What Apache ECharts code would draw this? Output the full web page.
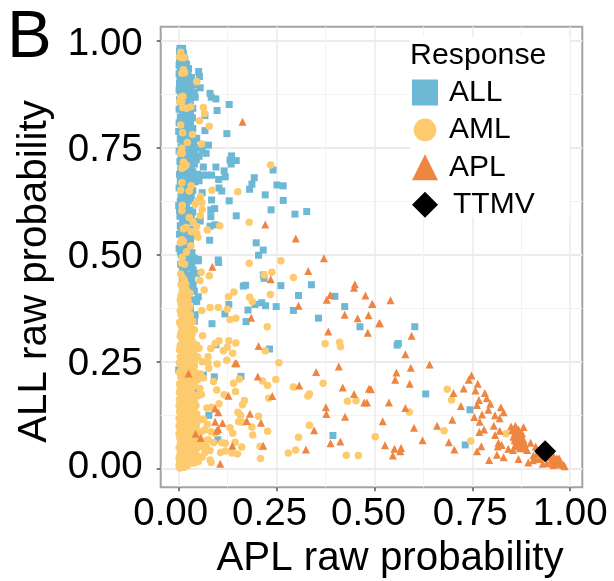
<!DOCTYPE html>
<html><head><meta charset="utf-8">
<style>html,body{margin:0;padding:0;background:#fff}#c{width:614px;height:581px}</style>
<script src="https://cdn.jsdelivr.net/npm/echarts@6/dist/echarts.min.js"></script></head>
<body><div id="c"></div>
<script>
const xTicks=[0,0.25,0.5,0.75,1];
const yTicks=[0,0.25,0.5,0.75,1];
const minorTicks=[0.125,0.375,0.625,0.875];
const seriesNames=['ALL','AML','APL','TTMV'];
const ALL=[[.003,.982],[.010,.982],[.002,.975],[.012,.970],[.005,.966],[.014,.960],[.002,.958],[.016,.955],[.006,.950],[.020,.945],[.001,.943],[.012,.940],[.025,.935],[.004,.933],[.018,.930],[.051,.928],[.024,.925],[.001,.923],[.010,.920],[.053,.916],[.033,.914],[.018,.912],[.003,.910],[.029,.904],[.012,.902],[.002,.899],[.042,.897],[.020,.895],[.008,.891],[.055,.890],[.030,.888],[.001,.885],[.016,.882],[.080,.877],[.005,.876],[.022,.872],[.042,.868],[.083,.868],[.030,.866],[.095,.864],[.002,.862],[.012,.860],[.020,.855],[.129,.851],[.030,.850],[.006,.846],[.001,.840],[.098,.837],[.014,.835],[.030,.832],[.022,.828],[.067,.825],[.004,.822],[.035,.820],[.012,.816],[.026,.812],[.001,.808],[.018,.805],[.030,.800],[.008,.798],[.022,.795],[.067,.790],[.000,.788],[.123,.783],[.028,.782],[.012,.778],[.046,.772],[.004,.770],[.030,.766],[.018,.762],[.038,.760],[.076,.756],[.006,.752],[.050,.750],[.026,.746],[.060,.744],[.001,.742],[.040,.738],[.070,.737],[.135,.731],[.030,.730],[.016,.726],[.045,.722],[.131,.721],[.147,.720],[.003,.718],[.028,.716],[.040,.712],[.134,.712],[.020,.708],[.063,.705],[.095,.705],[.032,.702],[.005,.700],[.241,.698],[.116,.696],[.015,.694],[.028,.690],[.002,.688],[.063,.686],[.084,.686],[.072,.686],[.038,.684],[.119,.682],[.193,.680],[.010,.680],[.025,.676],[.102,.676],[.034,.675],[.052,.673],[.004,.672],[.042,.670],[.015,.668],[.187,.665],[.251,.663],[.267,.661],[.028,.664],[.103,.656],[.001,.656],[.181,.653],[.030,.652],[.008,.650],[.110,.649],[.060,.645],[.036,.650],[.221,.640],[.004,.625],[.018,.632],[.084,.628],[.129,.626],[.267,.627],[.020,.622],[.030,.626],[.000,.615],[.092,.608],[.236,.605],[.082,.605],[.327,.601],[.012,.608],[.028,.604],[.297,.595],[.147,.591],[.082,.589],[.003,.590],[.018,.594],[.032,.590],[.055,.579],[.010,.580],[.025,.578],[.093,.570],[.080,.567],[.004,.568],[.030,.560],[.016,.556],[.040,.546],[.079,.534],[.002,.548],[.022,.540],[.198,.528],[.008,.528],[.030,.526],[.001,.515],[.216,.511],[.014,.512],[.024,.510],[.204,.499],[.006,.500],[.101,.488],[.050,.489],[.035,.486],[.050,.486],[.102,.482],[.033,.480],[.037,.465],[.046,.457],[.216,.453],[.218,.445],[.033,.437],[.010,.470],[.020,.452],[.024,.436],[.037,.430],[.339,.430],[.261,.428],[.171,.429],[.165,.427],[.306,.405],[.399,.403],[.050,.402],[.046,.391],[.212,.388],[.128,.384],[.195,.384],[.222,.381],[.249,.379],[.424,.379],[.177,.371],[.293,.370],[.118,.362],[.357,.352],[.172,.344],[.085,.339],[.463,.332],[.603,.332],[.561,.293],[.558,.289],[.095,.290],[.232,.280],[.000,.231],[.063,.219],[.159,.216],[.091,.215],[.042,.188],[.631,.175],[.744,.138],[.077,.125],[.394,.078],[.100,.068],[.732,.056],[.015,.400],[.030,.375],[.022,.350],[.018,.320],[.040,.345]];
const ALL_COLUMN=[[.008,.976],[.007,.958],[.011,.950],[.017,.938],[.008,.928],[.022,.918],[.006,.905],[.024,.882],[.010,.875],[.034,.878],[.040,.880],[.016,.866],[.006,.858],[.024,.845],[.010,.838],[.036,.842],[.018,.820],[.006,.812],[.030,.816],[.014,.790],[.024,.788],[.036,.795],[.005,.782],[.020,.775],[.036,.775],[.010,.765],[.024,.758],[.012,.748],[.034,.746],[.020,.736],[.006,.732],[.010,.715],[.022,.722],[.036,.728],[.052,.730],[.058,.758],[.008,.706],[.022,.696],[.036,.694],[.048,.688],[.016,.684],[.006,.664],[.020,.658],[.012,.644],[.024,.640],[.006,.636],[.032,.638],[.012,.620],[.002,.604],[.020,.610],[.008,.596],[.024,.586],[.036,.600],[.042,.578],[.016,.572],[.006,.556],[.024,.552],[.034,.548],[.012,.542],[.030,.538],[.018,.526],[.004,.508],[.034,.505],[.012,.495],[.024,.490],[.040,.492],[.005,.478],[.028,.470],[.016,.462],[.034,.452],[.010,.440],[.030,.420],[.040,.415],[.020,.405],[.042,.360],[.034,.395]];
const AML=[[.005,.973],[.009,.960],[.002,.962],[.014,.961],[.012,.932],[.008,.924],[.015,.925],[.046,.904],[.005,.868],[.011,.870],[.008,.858],[.002,.858],[.010,.844],[.031,.846],[.020,.842],[.063,.844],[.066,.830],[.053,.813],[.078,.800],[.005,.803],[.010,.785],[.035,.781],[.022,.762],[.058,.759],[.008,.749],[.009,.737],[.004,.738],[.012,.717],[.019,.710],[.008,.702],[.014,.705],[.235,.710],[.008,.668],[.032,.661],[.005,.651],[.027,.649],[.085,.651],[.151,.647],[.056,.636],[.050,.628],[.042,.618],[.059,.622],[.060,.606],[.009,.616],[.008,.603],[.055,.591],[.027,.587],[.037,.577],[.046,.566],[.180,.576],[.105,.568],[.073,.558],[.012,.560],[.019,.564],[.032,.554],[.046,.550],[.049,.541],[.008,.535],[.012,.531],[.004,.528],[.031,.521],[.020,.507],[.009,.494],[.261,.486],[.180,.480],[.008,.480],[.015,.478],[.057,.459],[.078,.451],[.218,.453],[.238,.459],[.293,.447],[.054,.440],[.012,.445],[.005,.455],[.018,.432],[.141,.413],[.127,.402],[.234,.407],[.181,.401],[.188,.391],[.065,.418],[.029,.410],[.010,.420],[.020,.418],[.006,.405],[.014,.398],[.024,.392],[.006,.385],[.016,.380],[.028,.378],[.059,.370],[.080,.377],[.101,.377],[.124,.373],[.004,.370],[.014,.364],[.030,.360],[.010,.352],[.131,.349],[.146,.352],[.020,.345],[.036,.345],[.226,.332],[.006,.335],[.028,.330],[.016,.322],[.040,.325],[.004,.310],[.022,.305],[.061,.311],[.034,.300],[.103,.299],[.128,.299],[.093,.293],[.146,.294],[.374,.292],[.411,.296],[.413,.285],[.082,.281],[.124,.284],[.114,.276],[.221,.276],[.138,.270],[.045,.290],[.052,.282],[.008,.290],[.016,.284],[.028,.280],[.002,.278],[.038,.272],[.012,.270],[.022,.264],[.048,.262],[.004,.262],[.075,.262],[.032,.256],[.123,.254],[.014,.252],[.060,.250],[.256,.248],[.075,.248],[.098,.245],[.006,.244],[.022,.240],[.040,.240],[.077,.235],[.012,.232],[.030,.228],[.002,.225],[.055,.222],[.020,.220],[.040,.218],[.063,.212],[.248,.209],[.155,.210],[.214,.205],[.089,.204],[.140,.200],[.369,.200],[.006,.212],[.014,.205],[.030,.206],[.002,.198],[.022,.196],[.040,.198],[.227,.195],[.293,.191],[.054,.188],[.010,.188],[.030,.186],[.097,.184],[.145,.181],[.020,.180],[.002,.178],[.334,.175],[.058,.174],[.116,.173],[.040,.172],[.012,.170],[.330,.170],[.230,.165],[.028,.165],[.002,.162],[.020,.160],[.168,.160],[.453,.159],[.431,.158],[.040,.156],[.010,.155],[.103,.152],[.163,.150],[.028,.150],[.001,.148],[.018,.146],[.084,.144],[.072,.142],[.040,.142],[.008,.140],[.026,.138],[.002,.134],[.151,.132],[.016,.132],[.034,.130],[.046,.128],[.008,.125],[.158,.125],[.204,.123],[.024,.124],[.001,.118],[.040,.118],[.063,.116],[.014,.116],[.054,.114],[.030,.112],[.153,.110],[.164,.109],[.006,.108],[.020,.106],[.073,.104],[.334,.102],[.045,.102],[.001,.100],[.033,.100],[.012,.098],[.187,.098],[.131,.096],[.024,.094],[.066,.091],[.004,.092],[.040,.090],[.227,.088],[.082,.087],[.016,.086],[.030,.084],[.093,.083],[.138,.083],[.001,.082],[.052,.080],[.189,.079],[.010,.078],[.022,.074],[.042,.074],[.306,.074],[.502,.075],[.003,.072],[.032,.068],[.076,.068],[.014,.068],[.060,.066],[.144,.062],[.110,.061],[.089,.061],[.119,.060],[.022,.060],[.746,.065],[.005,.060],[.040,.058],[.050,.056],[.014,.054],[.030,.052],[.055,.052],[.208,.052],[.161,.051],[.001,.050],[.070,.052],[.020,.046],[.042,.044],[.008,.044],[.299,.044],[.080,.043],[.119,.042],[.030,.040],[.067,.038],[.107,.038],[.136,.037],[.280,.037],[.150,.035],[.004,.036],[.016,.034],[.046,.032],[.428,.032],[.459,.031],[.024,.028],[.001,.026],[.060,.028],[.010,.024],[.209,.024],[.080,.021],[.036,.020],[.003,.016],[.050,.017],[.016,.014],[.083,.015],[.026,.012],[.001,.008],[.008,.006],[.003,.002],[.012,.010],[.589,.133],[.686,.186],[.697,.161],[.678,.089],[.836,.082]];
const AML_COLUMN=[[.014,.440],[.006,.430],[.012,.412],[.022,.402],[.004,.395],[.012,.375],[.022,.366],[.006,.360],[.024,.350],[.014,.340],[.002,.342],[.030,.338],[.010,.326],[.024,.318],[.006,.318],[.034,.315],[.014,.306],[.028,.296],[.010,.298],[.020,.290],[.040,.284],[.004,.288],[.034,.268],[.018,.272],[.028,.262],[.008,.256],[.020,.250],[.040,.252],[.002,.248],[.030,.244],[.014,.238],[.006,.230],[.022,.228],[.040,.228],[.014,.222],[.032,.214],[.006,.220],[.022,.210],[.012,.212],[.048,.208],[.036,.192],[.018,.190],[.004,.188],[.026,.178],[.010,.178],[.034,.176],[.048,.170],[.016,.168],[.006,.164],[.034,.158],[.024,.154],[.014,.148],[.004,.150],[.044,.148],[.032,.142],[.020,.138],[.012,.130],[.026,.128],[.040,.128],[.006,.120],[.018,.122],[.032,.118],[.048,.118],[.024,.110],[.012,.106],[.038,.108],[.004,.108],[.018,.098],[.028,.092],[.008,.090],[.036,.090],[.048,.088],[.022,.082],[.010,.084],[.042,.082],[.056,.086],[.028,.074],[.016,.076],[.006,.074],[.036,.074],[.050,.070],[.020,.066],[.008,.066],[.028,.062],[.038,.064],[.060,.056],[.012,.058],[.022,.052],[.036,.050],[.046,.048],[.006,.052],[.014,.044],[.028,.046],[.036,.038],[.004,.028],[.020,.038],[.012,.034],[.028,.032],[.008,.030],[.040,.028],[.018,.024],[.030,.022],[.008,.016],[.020,.016],[.012,.020],[.004,.008],[.040,.014],[.022,.008],[.014,.004]];
const APL=[[.163,.811],[.221,.571],[.299,.538],[.371,.492],[.086,.472],[.331,.462],[.235,.443],[.450,.431],[.448,.423],[.387,.406],[.378,.395],[.477,.405],[.494,.385],[.306,.381],[.424,.360],[.457,.352],[.485,.359],[.185,.353],[.512,.340],[.382,.321],[.483,.318],[.204,.287],[.144,.247],[.148,.247],[.409,.239],[.025,.223],[.351,.226],[.202,.216],[.308,.195],[.419,.190],[.486,.187],[.127,.171],[.239,.170],[.448,.175],[.474,.155],[.481,.155],[.376,.144],[.377,.128],[.425,.122],[.093,.141],[.101,.132],[.182,.129],[.174,.112],[.210,.108],[.093,.110],[.112,.107],[.101,.093],[.097,.089],[.346,.090],[.043,.082],[.056,.072],[.137,.054],[.216,.054],[.413,.064],[.388,.060],[.325,.045],[.106,.012],[.541,.394],[.495,.385],[.514,.340],[.595,.311],[.579,.268],[.641,.244],[.593,.236],[.556,.225],[.553,.208],[.590,.199],[.491,.186],[.537,.155],[.579,.142],[.521,.111],[.601,.096],[.660,.101],[.699,.115],[.702,.177],[.721,.147],[.728,.188],[.748,.218],[.741,.208],[.764,.199],[.758,.183],[.782,.177],[.787,.165],[.767,.161],[.762,.149],[.796,.152],[.791,.138],[.823,.144],[.830,.132],[.808,.125],[.820,.118],[.775,.127],[.755,.121],[.769,.110],[.805,.101],[.780,.092],[.768,.086],[.820,.089],[.808,.079],[.849,.099],[.860,.101],[.881,.098],[.864,.087],[.877,.083],[.855,.075],[.868,.072],[.881,.068],[.817,.061],[.825,.056],[.815,.052],[.773,.053],[.762,.041],[.690,.062],[.704,.045],[.623,.067],[.527,.055],[.551,.047],[.568,.049],[.566,.041],[.547,.031],[.793,.021],[.813,.033],[.830,.027],[.868,.023],[.893,.015],[.842,.047],[.854,.044],[.872,.048],[.885,.048],[.899,.061],[.912,.052],[.906,.031],[.923,.023],[.958,.009],[.966,.025],[.975,.017],[.983,.009],[.958,.029],[.949,.040],[.852,.090],[.868,.092],[.858,.082],[.872,.078],[.862,.065],[.875,.060],[.866,.052],[.880,.056],[.890,.044],[.915,.035],[.930,.030],[.945,.028],[.952,.020],[.940,.014],[.968,.012],[.978,.010],[.930,.012],[.905,.020],[.856,.090],[.870,.084],[.862,.078],[.874,.070],[.858,.068],[.868,.060],[.878,.064],[.872,.054],[.860,.056],[.884,.058],[.920,.040],[.912,.024],[.948,.034],[.962,.018],[.972,.024],[.986,.006],[.954,.012]];
const TTMV=[[.936,.041]];
const colors=['#6DB8D4','#FDCB6E','#EE8641','#000000'];
const sym=['rect','circle','triangle','diamond'];
const legendIcons=['rect','path://M0 0M26 26M1.7 13A11.3 11.3 0 1 1 24.3 13A11.3 11.3 0 1 1 1.7 13Z','triangle','diamond'];
const sizes=[7,7.5,8,22];
const font='"Liberation Sans",Arial,sans-serif';
const dat=[ALL.concat(ALL_COLUMN),AML.concat(AML_COLUMN),APL,TTMV];
const gx=160.7,gy=26.7,gw=421.6,gh=460.6;
const rs=p=>({fontFamily:font,fontSize:38.5,color:'#000',padding:p});
const xRich={a:rs([0,16,0,0]),b:rs([0,14,0,0]),c:rs([0,12,0,0]),d:rs([0,4,0,0]),e:rs([0,0,0,0])};
const yRich={a:rs([0,0,2,0]),b:rs([6,0,0,0]),c:rs([6,0,0,0]),d:rs([6,0,0,0]),e:rs([8,0,0,0])};
const keys=['a','b','c','d','e'];
function majorAxis(name,ticks,min,max,nameGap,isY,pad,rich,margin){return {type:'value',gridIndex:0,min,max,name,nameLocation:'middle',nameGap,
 nameTextStyle:{fontFamily:font,fontSize:40.3,color:'#000',padding:pad},
 axisLine:{show:false,onZero:false},
 axisTick:{show:true,length:4,inside:false,customValues:ticks,lineStyle:{color:'#555',width:1.5}},
 axisLabel:{show:true,fontFamily:font,fontSize:38.5,color:'#000',rich,customValues:ticks,margin,hideOverlap:false,showMinLabel:true,showMaxLabel:true,
   formatter:v=>'{'+keys[ticks.indexOf(v)]+'|'+v.toFixed(2)+'}'},
 splitLine:{show:true,lineStyle:{color:'#ebebeb',width:isY?2:1.5}}};}
function minorAxis(min,max){return {type:'value',gridIndex:0,min,max,axisLine:{show:false,onZero:false},
 axisTick:{show:false,customValues:minorTicks},axisLabel:{show:false,customValues:minorTicks},
 splitLine:{show:true,lineStyle:{color:'#f3f3f3',width:1}}};}
const xr=[-0.046,1.031],yr=[-0.043,1.0327];
const chart=echarts.init(document.getElementById('c'),null,{renderer:'canvas'});
chart.setOption({
 animation:false,backgroundColor:'#fff',
 grid:{left:gx,top:gy,width:gw,height:gh,show:true,borderColor:'#a3a3a3',borderWidth:2,backgroundColor:'transparent',containLabel:false,outerBoundsMode:'none'},
 xAxis:[majorAxis('APL raw probability',xTicks,xr[0],xr[1],52,false,[0,0,0,37],xRich,8),minorAxis(xr[0],xr[1])],
 yAxis:[majorAxis('ALL raw probability',yTicks,yr[0],yr[1],106,true,[0,29,0,0],yRich,18),minorAxis(yr[0],yr[1])],
 title:[{text:'B',left:7,top:5,padding:0,textStyle:{fontFamily:font,fontSize:67,fontWeight:'normal',color:'#000'}},
        {text:'Response',left:410,top:41,padding:0,textStyle:{fontFamily:font,fontSize:30.3,fontWeight:'normal',color:'#000'}}],
 legend:{orient:'vertical',left:412,top:77.5,padding:0,itemWidth:26,itemHeight:26,itemGap:7.4,
   data:seriesNames.map((n,i)=>({name:n,icon:legendIcons[i]})),
   formatter:n=>n==='TTMV'?'{t|TTMV}':n,
   textStyle:{fontFamily:font,fontSize:30,lineHeight:26,color:'#000',padding:[0,0,0,6],rich:{t:{fontFamily:font,fontSize:30,lineHeight:26,color:'#000',padding:[0,0,0,4]}}},selectedMode:false},
 graphic:[{type:'rect',z:2,shape:{x:410,y:37,width:160,height:180},style:{fill:'#fff'},silent:true}],
 series:seriesNames.map((n,i)=>({name:n,type:'scatter',xAxisIndex:0,yAxisIndex:0,data:dat[i],symbol:sym[i],symbolSize:sizes[i],
   itemStyle:{color:colors[i],opacity:1},z:3+i,silent:true}))
});
</script></body></html>
